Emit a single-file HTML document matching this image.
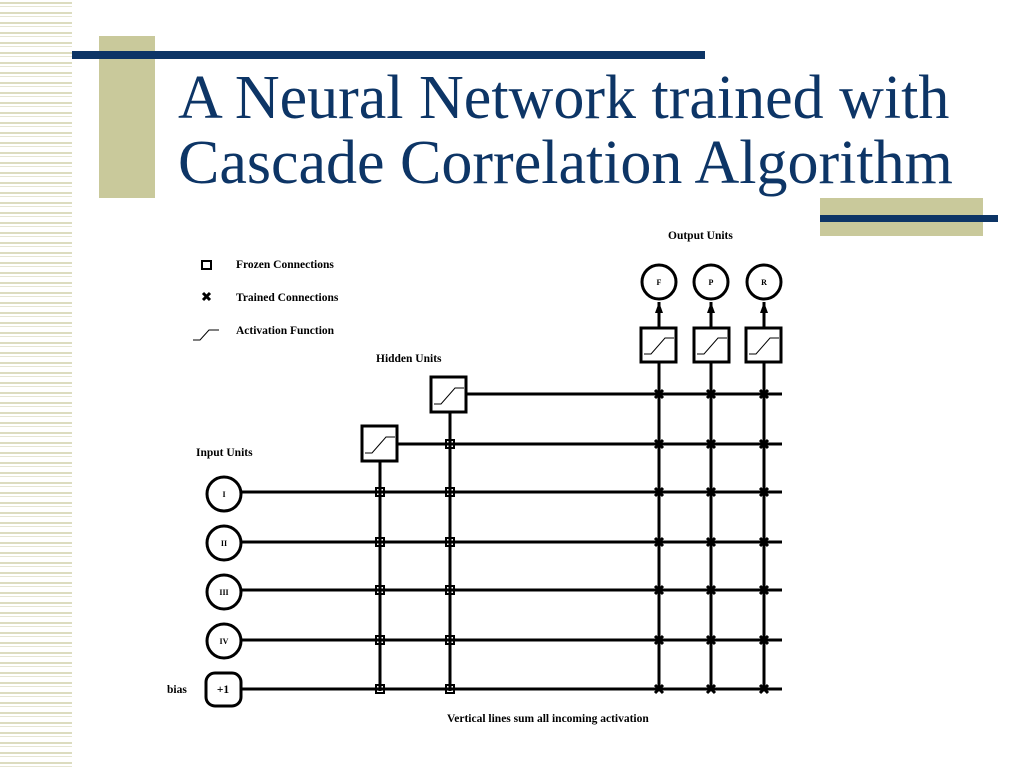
<!DOCTYPE html>
<html><head><style>
html,body{margin:0;padding:0;background:#fff;}
body{width:1024px;height:768px;position:relative;overflow:hidden;}
.stripes{position:absolute;left:0;top:0;width:72px;height:768px;
background:repeating-linear-gradient(to bottom,#fff 0,#fff 2px,#dcdcbf 2px,#dcdcbf 4px,#fff 4px,#fff 6px,#e6e6d2 6px,#e6e6d2 7px,#fff 7px,#fff 10px);}
.t{position:absolute;left:178px;font-family:"Liberation Serif",serif;font-size:62px;line-height:72px;color:#0d3566;white-space:nowrap;}
</style></head><body>
<div class="stripes"></div>
<div style="position:absolute;left:99px;top:36px;width:56px;height:162px;background:#c9c99b"></div>
<div style="position:absolute;left:72px;top:51px;width:633px;height:8px;background:#0d3566"></div>
<div class="t" style="top:62px">A Neural Network trained with</div>
<div class="t" style="top:127px">Cascade Correlation Algorithm</div>
<div style="position:absolute;left:820px;top:198px;width:163px;height:38px;background:#c9c99b"></div>
<div style="position:absolute;left:820px;top:215px;width:178px;height:7px;background:#0d3566"></div>
<svg width="1024" height="768" style="position:absolute;left:0;top:0" font-family="Liberation Serif,serif" font-weight="bold" font-size="11.5">
<g stroke="#000" stroke-width="3" fill="none">
<line x1="467" y1="394" x2="782" y2="394"/>
<line x1="398" y1="444" x2="782" y2="444"/>
<line x1="241" y1="492" x2="782" y2="492"/>
<line x1="241" y1="542" x2="782" y2="542"/>
<line x1="241" y1="590" x2="782" y2="590"/>
<line x1="241" y1="640" x2="782" y2="640"/>
<line x1="241" y1="689" x2="782" y2="689"/>
<line x1="380" y1="462" x2="380" y2="691"/>
<line x1="450" y1="412" x2="450" y2="691"/>
<line x1="659" y1="362" x2="659" y2="691"/>
<line x1="711" y1="362" x2="711" y2="691"/>
<line x1="764" y1="362" x2="764" y2="691"/>
<line x1="659" y1="328" x2="659" y2="302"/>
<line x1="711" y1="328" x2="711" y2="302"/>
<line x1="764" y1="328" x2="764" y2="302"/>
<circle cx="224" cy="494" r="17"/>
<circle cx="224" cy="543" r="17"/>
<circle cx="224" cy="592" r="17"/>
<circle cx="224" cy="641" r="17"/>
<rect x="206" y="673" width="35" height="33" rx="9"/>
<circle cx="659" cy="282" r="17"/>
<circle cx="711" cy="282" r="17"/>
<circle cx="764" cy="282" r="17"/>
<rect x="362" y="426" width="35" height="35" fill="#fff"/>
<rect x="431" y="377" width="35" height="35" fill="#fff"/>
<rect x="641" y="328" width="35" height="34" fill="#fff"/>
<rect x="694" y="328" width="35" height="34" fill="#fff"/>
<rect x="746" y="328" width="35" height="34" fill="#fff"/>
<rect x="202" y="261" width="9" height="8" stroke-width="2"/>
</g>
<g stroke="#000" stroke-width="1" fill="none">
<polyline points="365,453 372,453 386,437 395,437"/>
<polyline points="434,404 441,404 455,388 464,388"/>
<polyline points="644,354 651,354 665,338 674,338"/>
<polyline points="697,354 704,354 718,338 727,338"/>
<polyline points="749,354 756,354 770,338 779,338"/>
<polyline points="193,340 200,340 209,330 219,330"/>
</g>
<g fill="#000">
<polygon points="655,313 659,302 663,313"/>
<polygon points="707,313 711,302 715,313"/>
<polygon points="760,313 764,302 768,313"/>
</g>
<g stroke="#000" stroke-width="2" fill="none">
<rect x="376" y="488" width="8" height="8"/><rect x="376" y="538" width="8" height="8"/><rect x="376" y="586" width="8" height="8"/><rect x="376" y="636" width="8" height="8"/><rect x="376" y="685" width="8" height="8"/>
<rect x="446" y="440" width="8" height="8"/><rect x="446" y="488" width="8" height="8"/><rect x="446" y="538" width="8" height="8"/><rect x="446" y="586" width="8" height="8"/><rect x="446" y="636" width="8" height="8"/><rect x="446" y="685" width="8" height="8"/>
</g>
<g stroke="#000" stroke-width="3">
<path d="M655 390l8 8M663 390l-8 8M707 390l8 8M715 390l-8 8M760 390l8 8M768 390l-8 8"/>
<path d="M655 440l8 8M663 440l-8 8M707 440l8 8M715 440l-8 8M760 440l8 8M768 440l-8 8"/>
<path d="M655 488l8 8M663 488l-8 8M707 488l8 8M715 488l-8 8M760 488l8 8M768 488l-8 8"/>
<path d="M655 538l8 8M663 538l-8 8M707 538l8 8M715 538l-8 8M760 538l8 8M768 538l-8 8"/>
<path d="M655 586l8 8M663 586l-8 8M707 586l8 8M715 586l-8 8M760 586l8 8M768 586l-8 8"/>
<path d="M655 636l8 8M663 636l-8 8M707 636l8 8M715 636l-8 8M760 636l8 8M768 636l-8 8"/>
<path d="M655 685l8 8M663 685l-8 8M707 685l8 8M715 685l-8 8M760 685l8 8M768 685l-8 8"/>
<path d="M203 293l7 7M210 293l-7 7"/>
</g>
<g fill="#000">
<text x="236" y="268">Frozen Connections</text>
<text x="236" y="301">Trained Connections</text>
<text x="236" y="334">Activation Function</text>
<text x="376" y="362">Hidden Units</text>
<text x="196" y="456">Input Units</text>
<text x="668" y="239">Output Units</text>
<text x="447" y="722">Vertical lines sum all incoming activation</text>
<text x="167" y="693">bias</text>
<g font-size="8" text-anchor="middle">
<text x="224" y="497">I</text><text x="224" y="546">II</text><text x="224" y="595">III</text><text x="224" y="644">IV</text>
<text x="659" y="285">F</text><text x="711" y="285">P</text><text x="764" y="285">R</text>
</g>
<text x="223" y="693" text-anchor="middle">+1</text>
</g>
</svg>
</body></html>
